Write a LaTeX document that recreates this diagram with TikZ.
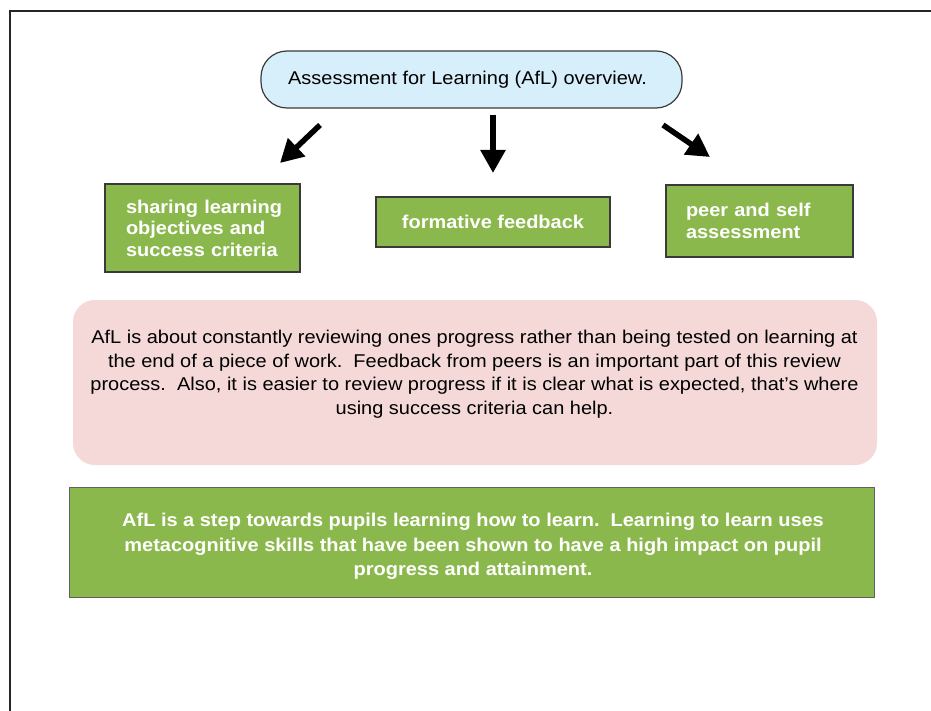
\documentclass[tikz,border=0pt]{standalone}
\usepackage{fontspec}
\setmainfont[FakeStretch=1.08]{Liberation Sans}
\usetikzlibrary{arrows.meta}
\definecolor{afgreen}{HTML}{8BB84C}
\definecolor{afblue}{HTML}{D7EFFB}
\definecolor{afpink}{HTML}{F4D9D8}
\definecolor{afborder}{HTML}{3A3A3A}
\begin{document}
\begin{tikzpicture}[x=1pt,y=-1pt,
  greenbox/.style={draw=afborder,line width=1.3pt,fill=afgreen,text=white,
    font=\bfseries\fontsize{18.5}{21.5}\selectfont,inner ysep=0pt},
  bigarrow/.style={line width=5.5pt,-{Triangle[length=23pt,width=24pt]}}]
\useasboundingbox (0,0) rectangle (931,711);
\fill[white] (0,0) rectangle (931,711);
\draw[line width=2.5pt,black!85] (10,711) -- (10,11) -- (931,11);

\node[draw=afborder,line width=1.2pt,fill=afblue,rounded corners=26pt,
  minimum width=421pt,minimum height=57pt,
  font=\fontsize{18.5}{22}\selectfont] (title) at (471.5,79.5)
  {\hspace*{-8pt}Assessment for Learning (AfL) overview.};

\node[greenbox,minimum height=88pt,text width=153pt,inner xsep=21pt,align=left]
  (b1) at (202.5,228) {\mbox{sharing learning}\\\mbox{objectives and}\\\mbox{success criteria}};
\node[greenbox,minimum width=234pt,minimum height=50pt,align=center]
  (b2) at (493,222) {formative feedback};
\node[greenbox,minimum height=72pt,text width=147pt,inner xsep=20pt,align=left]
  (b3) at (759.5,221) {\mbox{peer and self}\\\mbox{assessment}};

\coordinate (a1s) at (320,125); \coordinate (a1e) at (280,163);
\coordinate (a2s) at (493,115); \coordinate (a2e) at (493,173);
\coordinate (a3s) at (663,125); \coordinate (a3e) at (710,157);
\draw[bigarrow] (a1s) -- (a1e);
\draw[bigarrow] (a2s) -- (a2e);
\draw[bigarrow] (a3s) -- (a3e);

\node[fill=afpink,rounded corners=22pt,minimum width=804pt,minimum height=165pt]
  (pink) at (475,382.5) {};
\node[align=center,font=\fontsize{18.5}{23.5}\selectfont] (pinktext) at (474.5,374)
  {AfL is about constantly reviewing ones progress rather than being tested on learning at\\
   the end of a piece of work.\ \ Feedback from peers is an important part of this review\\
   process.\ \ Also, it is easier to review progress if it is clear what is expected, that's where\\
   using success criteria can help.};

\node[draw=afborder!80,line width=1pt,fill=afgreen,minimum width=805pt,minimum height=110pt]
  (green) at (472,542) {};
\node[align=center,text=white,font=\bfseries\fontsize{18.5}{24.5}\selectfont] (greentext) at (473,546.5)
  {AfL is a step towards pupils learning how to learn.\ \ Learning to learn uses\\
   metacognitive skills that have been shown to have a high impact on pupil\\
   progress and attainment.};
\end{tikzpicture}
\end{document}
